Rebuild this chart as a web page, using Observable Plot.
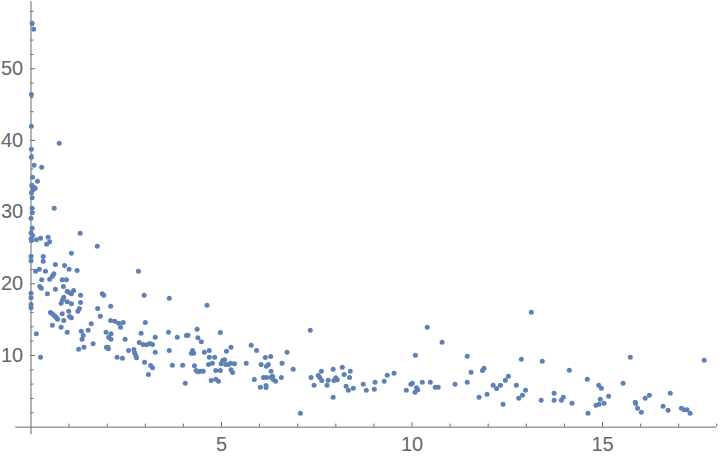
<!DOCTYPE html>
<html><head><meta charset="utf-8">
<script src="https://cdn.jsdelivr.net/npm/d3@7"></script>
<script src="https://cdn.jsdelivr.net/npm/@observablehq/plot@0.6"></script>
<style>body{margin:0;background:#fff} svg{display:block}</style>
</head><body><div id="chart"></div>
<script>
const xValues = [
0.03,0.07,0.01,0.01,0.74,0.01,
0.01,0.08,0.28,0.04,0.17,0.02,0.07,0.11,0.05,0.01,0.03,0.03,0.03,0.61,0.00,0.03,0.00,0.04,0.00,0.01,0.14,0.25,0.45,0.49,0.41,1.29,1.74,0.00,0.00,0.32,0.32,1.06,0.64,0.88,1.00,1.21,0.22,0.12,0.38,0.60,0.56,0.49,0.28,0.82,0.93,
0.00,0.00,0.00,0.00,0.23,0.27,0.43,0.64,0.85,0.95,1.00,1.06,1.12,1.30,0.86,0.83,0.79,0.95,1.06,1.30,1.27,1.23,1.75,2.09,1.87,1.91,0.99,0.51,0.56,0.60,0.64,0.67,0.70,0.82,0.86,1.01,1.06,1.82,2.09,2.20,2.30,0.56,0.79,0.95,1.32,1.50,1.58,1.97,2.10,1.37,1.34,2.04,2.10,0.14,1.63,1.25,1.39,1.98,2.02,2.03,0.25,2.26,
2.82,2.97,3.63,4.62,
2.35,2.42,2.47,2.40,2.56,2.70,2.72,2.75,2.77,2.84,2.89,3.00,2.94,3.03,3.12,3.19,3.26,3.26,2.98,3.14,3.19,3.08,3.61,3.63,3.71,3.84,3.98,4.05,4.08,4.12,4.24,4.27,4.21,4.29,4.33,4.38,4.45,4.52,4.36,4.38,4.47,4.55,4.68,4.68,4.82,4.66,4.76,4.73,4.85,4.92,4.85,4.97,4.97,5.03,5.08,4.99,5.11,5.18,5.24,5.34,5.13,5.25,5.25,5.29,
5.65,5.78,5.92,5.86,6.04,6.15,6.18,6.23,6.29,6.30,6.02,6.10,6.18,6.17,6.17,6.30,6.34,6.36,6.42,6.57,6.59,6.72,6.88,7.07,7.33,7.35,7.43,7.54,7.58,7.62,7.63,7.77,7.80,7.93,7.93,7.95,8.00,8.04,8.17,8.22,8.27,8.33,8.36,8.38,8.46,
8.72,8.80,9.01,9.03,9.27,9.35,9.53,9.85,9.97,10.01,10.09,10.08,10.12,10.15,10.27,10.40,10.48,10.61,10.69,10.79,11.13,11.45,11.45,11.55,11.76,
11.85,11.89,11.97,12.13,12.22,12.32,12.39,12.45,12.53,12.74,12.80,12.90,12.98,12.87,13.13,13.39,13.42,13.73,13.73,13.92,13.97,14.13,14.20,14.60,14.62,
14.83,14.91,14.94,15.04,14.90,14.97,15.16,15.54,15.73,15.86,15.87,15.92,16.02,16.12,16.23,16.59,16.72,16.78,17.07,17.14,17.22,17.30,17.67
];
const yValues = [
56.36,55.52,46.41,41.98,39.61,38.78,
37.66,36.54,36.26,34.87,34.31,33.71,33.47,33.33,33.11,32.69,31.99,30.54,29.90,30.54,29.15,27.75,27.11,26.73,26.27,26.04,26.13,26.36,26.50,25.85,25.52,27.05,25.24,23.80,23.20,23.80,23.15,24.26,22.69,22.55,22.03,21.85,22.03,21.75,21.75,21.39,21.06,20.64,20.55,20.55,20.55,
18.68,18.04,17.11,16.65,19.62,19.38,18.60,19.24,19.62,18.96,18.78,18.60,19.06,18.40,18.13,17.76,17.29,17.48,17.20,17.39,16.55,16.17,16.55,16.87,18.60,18.40,16.17,15.99,15.81,15.61,15.43,15.25,15.06,15.81,14.87,15.43,15.25,15.47,14.87,14.78,14.50,14.22,13.94,13.24,13.38,13.52,14.41,13.24,13.02,12.78,12.26,12.54,12.26,13.02,11.62,10.87,11.15,11.15,11.15,10.95,9.75,9.75,
21.75,18.40,17.99,17.01,
13.94,14.59,12.26,9.61,10.69,10.83,10.37,9.99,9.67,11.80,13.10,14.59,11.53,11.48,11.66,11.53,12.54,10.45,9.06,8.59,8.27,7.34,13.24,10.69,8.64,12.54,8.64,6.13,12.78,12.82,10.69,10.31,10.31,8.55,7.90,7.72,7.80,7.80,13.66,12.46,11.90,10.45,10.69,9.75,9.75,8.73,8.92,6.50,6.68,6.40,7.90,7.90,13.20,9.29,9.39,8.83,8.73,8.73,8.92,8.83,10.59,11.15,8.00,7.62,
8.92,11.43,10.69,6.64,8.73,9.71,8.50,8.73,9.85,7.80,5.57,6.92,6.92,5.80,5.53,6.96,7.10,6.64,6.40,6.92,8.92,10.45,8.08,1.94,13.52,6.92,5.85,7.20,6.92,7.80,6.50,5.85,6.54,8.08,4.17,6.50,6.88,6.60,8.36,7.34,5.71,5.15,6.92,7.80,5.43,
5.99,5.15,5.29,6.26,6.40,7.24,7.52,5.15,5.99,6.13,10.03,4.87,5.48,5.20,6.26,13.94,6.26,5.57,5.57,11.85,5.99,9.89,6.26,7.66,4.17,
7.90,8.22,4.59,5.85,5.39,5.85,3.20,6.54,7.10,5.85,4.03,4.45,5.15,9.47,16.03,3.75,9.19,4.73,3.75,3.75,4.17,7.94,3.33,6.68,1.94,
3.06,3.20,3.89,3.33,5.85,5.43,4.31,6.13,9.75,3.47,3.29,2.64,2.08,4.03,4.45,2.92,2.36,4.73,2.64,2.41,2.41,1.94,9.33
];
const xMajorTicks = [5, 10, 15];
const xMinorTicks = [1, 2, 3, 4, 6, 7, 8, 9, 11, 12, 13, 14, 16, 17, 18];
const yMajorTicks = [10, 20, 30, 40, 50];
const yMinorTicks = [2, 4, 6, 8, 12, 14, 16, 18, 22, 24, 26, 28, 32, 34, 36, 38, 42, 44, 46, 48, 52, 54, 56, 58];

const points = xValues.map((x, i) => ({x, y: yValues[i]}));

const W = 720, H = 458;
const xDomain = [-0.4, 18];
const yDomain = [-1.07, 59.38];
const ml = 15.26, mr = 3.7, mt = 1, mb = 23.7;
const pxPerY = (H - mt - mb) / (yDomain[1] - yDomain[0]);
const pxPerX = (W - ml - mr) / (xDomain[1] - xDomain[0]);
const axisColor = "#6a6a6a";
const textColor = "#666666";

const chart = Plot.plot({
  width: W, height: H,
  marginLeft: ml, marginRight: mr, marginTop: mt, marginBottom: mb,
  x: {domain: xDomain, axis: null},
  y: {domain: yDomain, axis: null},
  style: {fontFamily: "'Liberation Sans', Arial, sans-serif", background: "#ffffff", overflow: "visible"},
  marks: [
    Plot.ruleY([0], {x1: xDomain[0], x2: xDomain[1], stroke: axisColor, strokeWidth: 1}),
    Plot.ruleX([0], {y1: yDomain[0], y2: yDomain[1], stroke: axisColor, strokeWidth: 1}),
    Plot.ruleX(xMajorTicks, {x: d => d, y1: 0, y2: 4.5 / pxPerY, stroke: axisColor}),
    Plot.ruleX(xMinorTicks, {x: d => d, y1: 0, y2: 3 / pxPerY, stroke: axisColor}),
    Plot.ruleY(yMajorTicks, {y: d => d, x1: 0, x2: 4.5 / pxPerX, stroke: axisColor}),
    Plot.ruleY(yMinorTicks, {y: d => d, x1: 0, x2: 3 / pxPerX, stroke: axisColor}),
    Plot.text(xMajorTicks, {x: d => d, y: 0, text: d => String(d), lineAnchor: "bottom", dy: 24.1, fontSize: 20, fill: textColor}),
    Plot.text(yMajorTicks, {x: 0, y: d => d, text: d => String(d), textAnchor: "end", dx: -7.8, fontSize: 20, fill: textColor}),
    Plot.dot(points, {x: "x", y: "y", r: 2.5, fill: "#5E81B5", stroke: "none"})
  ]
});
document.getElementById("chart").appendChild(chart);
</script>
</body></html>
